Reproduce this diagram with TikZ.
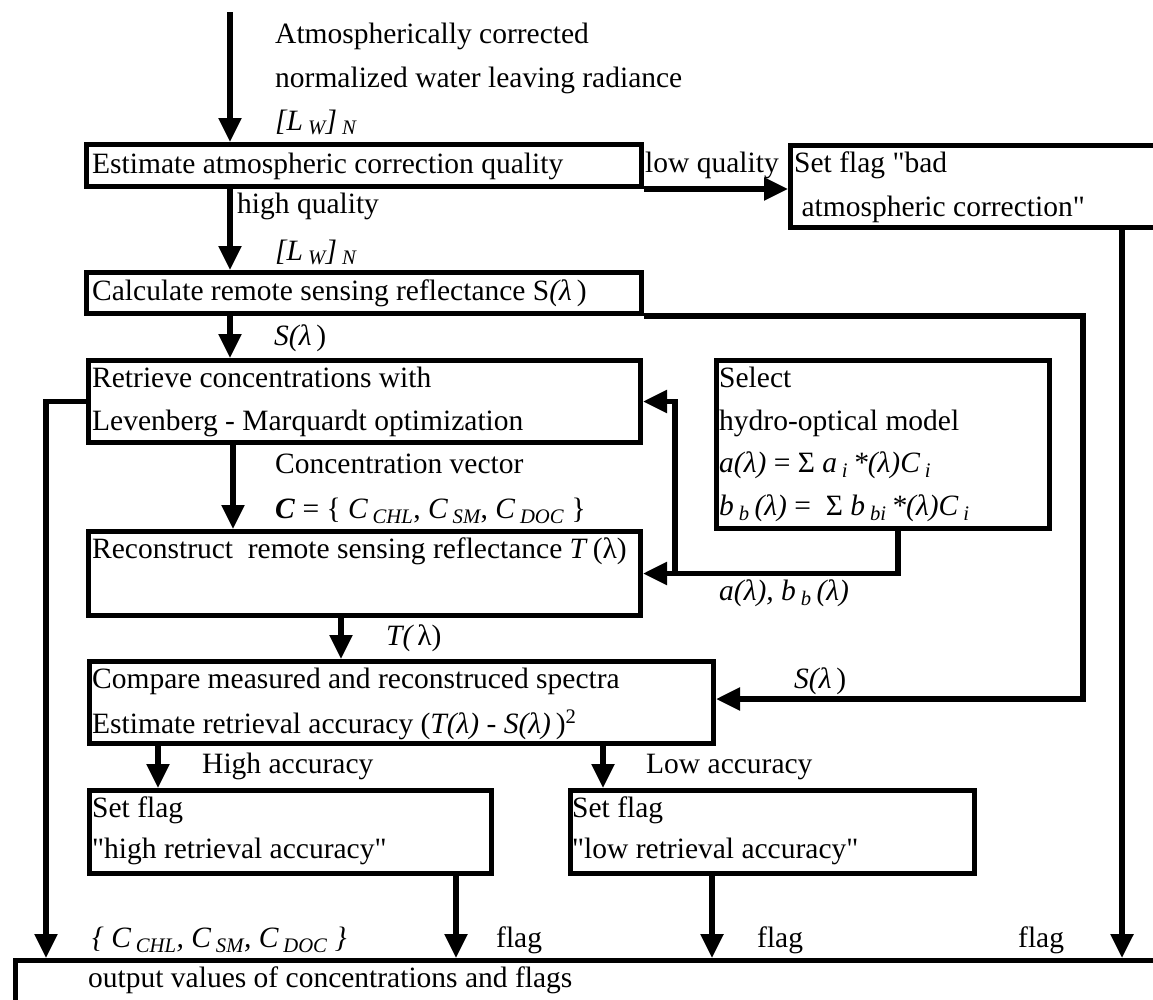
\documentclass[tikz,border=0pt]{standalone}
\usepackage{fontspec}
\setmainfont{Liberation Serif}
\usetikzlibrary{arrows.meta}

\begin{document}
\begin{tikzpicture}
	[x=1pt,y=-1pt,
	box/.style={draw,rectangle,line width=5pt,inner sep=0pt,anchor=north west},
	txt/.style={anchor=base west,inner sep=0pt,font=\fontsize{29.5}{43}\selectfont},
	flow/.style={line width=5.5pt,-{Triangle[length=24pt,width=22pt]}}]

	\useasboundingbox (0,0) rectangle (1153,999);
	\clip (0,0) rectangle (1153,999);

	% boxes
	\node[box,minimum width=555pt,minimum height=42pt] (qual) at (84,142) {};
	\node[box,minimum width=382pt,minimum height=82pt] (badflag) at (788,143) {};
	\node[box,minimum width=555pt,minimum height=41pt] (refl) at (84,270) {};
	\node[box,minimum width=552pt,minimum height=82pt] (retr) at (86,358) {};
	\node[box,minimum width=333pt,minimum height=168pt] (model) at (714,358) {};
	\node[box,minimum width=552pt,minimum height=84pt] (recon) at (86,529) {};
	\node[box,minimum width=624pt,minimum height=82pt] (comp) at (87,659) {};
	\node[box,minimum width=402pt,minimum height=83pt] (hiflag) at (87,788) {};
	\node[box,minimum width=404pt,minimum height=83pt] (loflag) at (568,788) {};
	\node[box,minimum width=1160pt,minimum height=60pt] (output) at (13,958) {};

	% texts
	\node[txt] (intxt) at (275,43) {Atmospherically corrected};
	\node[txt] (intxtb) at (275,87) {normalized water leaving radiance};
	\node[txt] (lwa) at (275,130) {\textit{[L\,\textsubscript{W}]\,\textsubscript{N}}};
	\node[txt] (qualtxt) at (92,173) {Estimate atmospheric correction quality};
	\node[txt] (lowq) at (645,172) {low quality};
	\node[txt] (badtxt) at (794,172) {Set flag \textquotedbl bad};
	\node[txt] (badtxtb) at (794,216) {\ atmospheric correction\textquotedbl};
	\node[txt] (highq) at (237,213) {high quality};
	\node[txt] (lwb) at (275,260) {\textit{[L\,\textsubscript{W}]\,\textsubscript{N}}};
	\node[txt] (refltxt) at (92,300) {Calculate remote sensing reflectance S\textit{(λ}\,)};
	\node[txt] (sa) at (274,345) {\textit{S(λ}\,)};
	\node[txt] (retrtxt) at (92,387) {Retrieve concentrations with};
	\node[txt] (retrtxtb) at (92,430) {Levenberg - Marquardt optimization};
	\node[txt] (cvec) at (275,473) {Concentration vector};
	\node[txt] (cvecb) at (275,518) {\textbf{\textit{C}} = \{ \textit{C\,\textsubscript{CHL}}, \textit{C\,\textsubscript{SM}}, \textit{C\,\textsubscript{DOC}} \}};
	\node[txt] (recontxt) at (92,558) {Reconstruct\ \ remote sensing reflectance \textit{T}\,(λ)};
	\node[txt] (modeltxt) at (719,387) {Select};
	\node[txt] (modeltxtb) at (719,430) {hydro-optical model};
	\node[txt] (modeltxtc) at (719,472) {\textit{a(λ)} = Σ \textit{a\,\textsubscript{i}\,*(λ)C\,\textsubscript{i}}};
	\node[txt] (modeltxtd) at (719,515) {\textit{b\,\textsubscript{b}\,(λ)} = \ Σ \textit{b\,\textsubscript{bi}\,*(λ)C\,\textsubscript{i}}};
	\node[txt] (ab) at (719,600) {\textit{a(λ), b\,\textsubscript{b}\,(λ)}};
	\node[txt] (ta) at (386,645) {\textit{T(\,}λ)};
	\node[txt] (comptxt) at (92,688) {Compare measured and reconstruced spectra};
	\node[txt] (comptxtb) at (92,733) {Estimate retrieval accuracy (\textit{T(λ) - S(λ)}\,)\textsuperscript{2}};
	\node[txt] (sb) at (794,688) {\textit{S(λ}\,)};
	\node[txt] (hiacc) at (202,773) {High accuracy};
	\node[txt] (loacc) at (646,773) {Low accuracy};
	\node[txt] (hitxt) at (92,817) {Set flag};
	\node[txt] (hitxtb) at (92,858) {\textquotedbl high retrieval accuracy\textquotedbl};
	\node[txt] (lotxt) at (572,817) {Set flag};
	\node[txt] (lotxtb) at (572,858) {\textquotedbl low retrieval accuracy\textquotedbl};
	\node[txt] (conc) at (92,947) {\textit{\{ C\,\textsubscript{CHL}, C\,\textsubscript{SM}, C\,\textsubscript{DOC} \}}};
	\node[txt] (flaga) at (496,947) {flag};
	\node[txt] (flagb) at (757,947) {flag};
	\node[txt] (flagc) at (1018,947) {flag};
	\node[txt] (outtxt) at (88,987) {output values of concentrations and flags};

	% connector points
	\coordinate (in) at (230,12);
	\coordinate (lbus) at (46,0);
	\coordinate (rbus) at (1083,699);
	\coordinate (tx) at (341,0);
	\coordinate (hx) at (158,0);
	\coordinate (lx) at (603,0);
	\coordinate (hox) at (456,0);
	\coordinate (lox) at (712,0);
	\coordinate (bx) at (1122,0);
	\coordinate (mx) at (898,0);
	\coordinate (fx) at (675,0);

	\draw[flow] (in) -- (in |- qual.north);
	\draw[flow] (qual.south east) -- (qual.south east -| badflag.west);
	\draw[flow] (in |- qual.south) -- (in |- refl.north);
	\draw[flow] (in |- refl.south) -- (in |- retr.north);
	\draw[flow] ([xshift=3pt]in |- retr.south) -- ([xshift=3pt]in |- recon.north);
	\draw[flow] (tx |- recon.south) -- (tx |- comp.north);
	\draw[flow] (refl.south east) -| (rbus) -- (rbus -| comp.east);
	\draw[flow] (retr.west) -| (lbus |- output.north);
	\draw[flow] (mx |- model.south) |- (recon.east);
	\draw[flow] (fx |- recon.east) |- (retr.east);
	\draw[flow] (hx |- comp.south) -- (hx |- hiflag.north);
	\draw[flow] (lx |- comp.south) -- (lx |- loflag.north);
	\draw[flow] (hox |- hiflag.south) -- (hox |- output.north);
	\draw[flow] (lox |- loflag.south) -- (lox |- output.north);
	\draw[flow] (bx |- badflag.south) -- (bx |- output.north);

\end{tikzpicture}
\end{document}
